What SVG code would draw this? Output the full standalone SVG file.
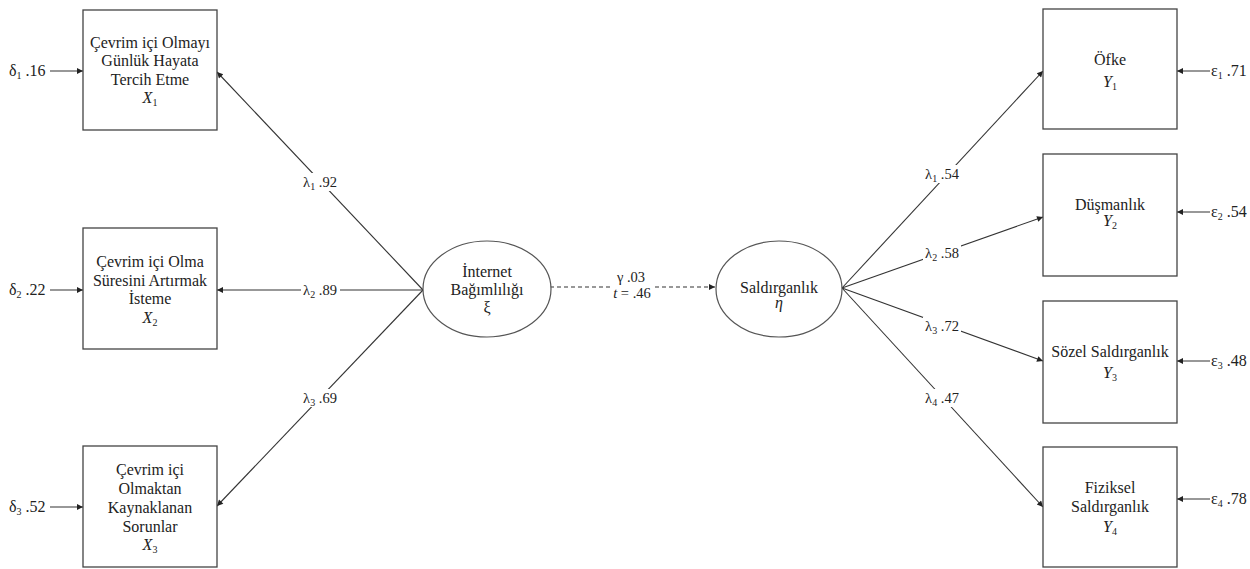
<svg xmlns="http://www.w3.org/2000/svg" width="1250" height="569" viewBox="0 0 1250 569">
<defs>
<marker id="ah" viewBox="0 0 10 10" refX="10" refY="5" markerWidth="9" markerHeight="6" markerUnits="userSpaceOnUse" orient="auto">
<path d="M0,0 L10,5 L0,10 z" fill="#222"/>
</marker>
</defs>
<style>
text{font-family:"Liberation Serif","Times New Roman",serif;font-size:16px;fill:#222;text-anchor:middle}
.it{font-style:italic}
.box{fill:#fff;stroke:#444;stroke-width:1.3}
.ell{fill:#fff;stroke:#555;stroke-width:1.2}
.ln{stroke:#333;stroke-width:1.1;fill:none}
.dash{stroke:#333;stroke-width:1.1;fill:none;stroke-dasharray:4,3}
.lbl{fill:#fff}
.lt{font-size:14.5px}
.st{text-anchor:start}
.sub{font-size:10px}
</style>
<rect width="1250" height="569" fill="#fff"/>
<g id="connectors">
<line class="ln" x1="423" y1="290" x2="217" y2="72" marker-end="url(#ah)"/>
<line class="ln" x1="423" y1="290" x2="217" y2="290" marker-end="url(#ah)"/>
<line class="ln" x1="423" y1="290" x2="217" y2="506" marker-end="url(#ah)"/>
<line class="dash" x1="550" y1="287" x2="715" y2="287" marker-end="url(#ah)"/>
<line class="ln" x1="842" y1="288" x2="1043" y2="71" marker-end="url(#ah)"/>
<line class="ln" x1="842" y1="288" x2="1043" y2="217" marker-end="url(#ah)"/>
<line class="ln" x1="842" y1="288" x2="1043" y2="361" marker-end="url(#ah)"/>
<line class="ln" x1="842" y1="288" x2="1043" y2="507" marker-end="url(#ah)"/>
<line class="ln" x1="50" y1="71" x2="83" y2="71" marker-end="url(#ah)"/>
<line class="ln" x1="50" y1="290" x2="83" y2="290" marker-end="url(#ah)"/>
<line class="ln" x1="50" y1="507" x2="83" y2="507" marker-end="url(#ah)"/>
<line class="ln" x1="1210" y1="71" x2="1177" y2="71" marker-end="url(#ah)"/>
<line class="ln" x1="1210" y1="212" x2="1177" y2="212" marker-end="url(#ah)"/>
<line class="ln" x1="1210" y1="361" x2="1177" y2="361" marker-end="url(#ah)"/>
<line class="ln" x1="1210" y1="499" x2="1177" y2="499" marker-end="url(#ah)"/>
<rect class="lbl" x="301" y="173" width="39" height="18"/>
<text class="lt" x="320" y="187">λ<tspan class="sub" dy="3">1</tspan><tspan dy="-3"> .92</tspan></text>
<rect class="lbl" x="301" y="281" width="39" height="18"/>
<text class="lt" x="320" y="295">λ<tspan class="sub" dy="3">2</tspan><tspan dy="-3"> .89</tspan></text>
<rect class="lbl" x="301" y="389" width="39" height="18"/>
<text class="lt" x="320" y="403">λ<tspan class="sub" dy="3">3</tspan><tspan dy="-3"> .69</tspan></text>
<rect class="lbl" x="610" y="271" width="42" height="30"/>
<text class="lt" x="631" y="282">γ .03</text>
<text class="lt" x="632" y="298"><tspan class="it">t</tspan> = .46</text>
<rect class="lbl" x="923" y="165" width="38" height="18"/>
<text class="lt" x="942" y="179">λ<tspan class="sub" dy="3">1</tspan><tspan dy="-3"> .54</tspan></text>
<rect class="lbl" x="923" y="244" width="38" height="18"/>
<text class="lt" x="942" y="258">λ<tspan class="sub" dy="3">2</tspan><tspan dy="-3"> .58</tspan></text>
<rect class="lbl" x="923" y="317" width="38" height="18"/>
<text class="lt" x="942" y="331">λ<tspan class="sub" dy="3">3</tspan><tspan dy="-3"> .72</tspan></text>
<rect class="lbl" x="923" y="389" width="38" height="18"/>
<text class="lt" x="942" y="403">λ<tspan class="sub" dy="3">4</tspan><tspan dy="-3"> .47</tspan></text>
<text class="st" x="9" y="76">δ<tspan class="sub" dy="3">1</tspan><tspan dy="-3"> .16</tspan></text>
<text class="st" x="9" y="295">δ<tspan class="sub" dy="3">2</tspan><tspan dy="-3"> .22</tspan></text>
<text class="st" x="9" y="512">δ<tspan class="sub" dy="3">3</tspan><tspan dy="-3"> .52</tspan></text>
<text class="st" x="1211" y="76">ε<tspan class="sub" dy="3">1</tspan><tspan dy="-3"> .71</tspan></text>
<text class="st" x="1211" y="217">ε<tspan class="sub" dy="3">2</tspan><tspan dy="-3"> .54</tspan></text>
<text class="st" x="1211" y="366">ε<tspan class="sub" dy="3">3</tspan><tspan dy="-3"> .48</tspan></text>
<text class="st" x="1211" y="504">ε<tspan class="sub" dy="3">4</tspan><tspan dy="-3"> .78</tspan></text>
</g>
<g id="X1">
<rect class="box" x="83" y="10" width="134" height="120"/>
<text x="150" y="48">Çevrim içi Olmayı</text>
<text x="150" y="66">Günlük Hayata</text>
<text x="150" y="85">Tercih Etme</text>
<text x="150" y="103"><tspan class="it">X</tspan><tspan class="sub" dy="3">1</tspan></text>
</g>
<g id="X2">
<rect class="box" x="83" y="228" width="134" height="121"/>
<text x="150" y="267">Çevrim içi Olma</text>
<text x="150" y="286">Süresini Artırmak</text>
<text x="150" y="304">İsteme</text>
<text x="150" y="323"><tspan class="it">X</tspan><tspan class="sub" dy="3">2</tspan></text>
</g>
<g id="X3">
<rect class="box" x="83" y="446" width="134" height="121"/>
<text x="150" y="475">Çevrim içi</text>
<text x="150" y="494">Olmaktan</text>
<text x="150" y="513">Kaynaklanan</text>
<text x="150" y="532">Sorunlar</text>
<text x="150" y="550"><tspan class="it">X</tspan><tspan class="sub" dy="3">3</tspan></text>
</g>
<g id="ksi">
<ellipse class="ell" cx="487" cy="289" rx="64" ry="48"/>
<text x="487" y="277">İnternet</text>
<text x="487" y="295">Bağımlılığı</text>
<text x="487" y="313">ξ</text>
</g>
<g id="eta">
<ellipse class="ell" cx="779" cy="289" rx="63" ry="48"/>
<text x="779" y="293">Saldırganlık</text>
<text class="it" x="779" y="308">η</text>
</g>
<g id="Y1">
<rect class="box" x="1043" y="9" width="134" height="120"/>
<text x="1110" y="65">Öfke</text>
<text x="1110" y="87"><tspan class="it">Y</tspan><tspan class="sub" dy="3">1</tspan></text>
</g>
<g id="Y2">
<rect class="box" x="1043" y="154" width="134" height="122"/>
<text x="1110" y="210">Düşmanlık</text>
<text x="1110" y="226"><tspan class="it">Y</tspan><tspan class="sub" dy="3">2</tspan></text>
</g>
<g id="Y3">
<rect class="box" x="1043" y="301" width="134" height="122"/>
<text x="1110" y="357">Sözel Saldırganlık</text>
<text x="1110" y="378"><tspan class="it">Y</tspan><tspan class="sub" dy="3">3</tspan></text>
</g>
<g id="Y4">
<rect class="box" x="1043" y="447" width="134" height="120"/>
<text x="1110" y="493">Fiziksel</text>
<text x="1110" y="512">Saldırganlık</text>
<text x="1110" y="532"><tspan class="it">Y</tspan><tspan class="sub" dy="3">4</tspan></text>
</g>
</svg>
